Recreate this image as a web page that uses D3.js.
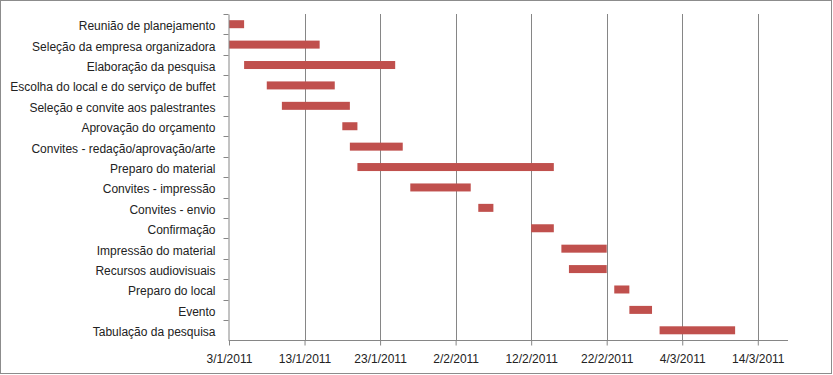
<!DOCTYPE html>
<html lang="pt">
	<head>
		<meta charset="utf-8">
		<title>Cronograma do evento</title>
		<script src="https://cdn.jsdelivr.net/npm/d3@7"></script>
		<style type="text/css">
			body { margin: 0; background: #fff; }
			svg { display: block; font-family: "Liberation Sans", Arial, sans-serif; }
			.axis text { fill: #222; font-size: 12px; }
			.axis path, .axis line { stroke: #868686; }
		</style>
	</head>
	<body>
		<script type="text/javascript">

			// Width and height
			var w = 833;
			var h = 375;

			// Tasks, start dates and durations (days)
			var tasks = ["Reunião de planejamento", "Seleção da empresa organizadora", "Elaboração da pesquisa",
				"Escolha do local e do serviço de buffet", "Seleção e convite aos palestrantes", "Aprovação do orçamento",
				"Convites - redação/aprovação/arte", "Preparo do material", "Convites - impressão", "Convites - envio",
				"Confirmação", "Impressão do material", "Recursos audiovisuais", "Preparo do local", "Evento",
				"Tabulação da pesquisa"];
			var starts = ["2011-01-03", "2011-01-03", "2011-01-05", "2011-01-08", "2011-01-10", "2011-01-18",
				"2011-01-19", "2011-01-20", "2011-01-27", "2011-02-05", "2011-02-12", "2011-02-16",
				"2011-02-17", "2011-02-23", "2011-02-25", "2011-03-01"];
			var durations = [2, 12, 20, 9, 9, 2, 7, 26, 8, 2, 3, 6, 5, 2, 3, 10];

			// Tick labels on the date axis
			var tickDates = ["2011-01-03", "2011-01-13", "2011-01-23", "2011-02-02", "2011-02-12",
				"2011-02-22", "2011-03-04", "2011-03-14"];
			var axisMin = "2011-01-03";
			var axisMax = "2011-03-18";

			var parse = d3.utcParse("%Y-%m-%d");
			var fmt = d3.utcFormat("%-d/%-m/%Y");

			var margin = { top: 14, right: 45, bottom: 35, left: 229 };

			var x = d3.scaleUtc()
				.domain([parse(axisMin), parse(axisMax)])
				.range([margin.left, 788]);

			var y = d3.scaleBand()
				.domain(tasks)
				.range([margin.top, 340.5]);

			var svg = d3.select("body")
				.append("svg")
				.attr("width", w)
				.attr("height", h);

			// outer frame
			svg.append("rect")
				.attr("x", 0.5).attr("y", 0.5)
				.attr("width", w - 2).attr("height", h - 2)
				.attr("fill", "#fff")
				.attr("stroke", "#8c8c8c");

			var ticks = tickDates.map(parse);

			// vertical gridlines
			svg.append("g")
				.selectAll("line")
				.data(ticks.slice(1))
				.enter()
				.append("line")
				.attr("x1", function(d) { return Math.round(x(d)) + 0.5; })
				.attr("x2", function(d) { return Math.round(x(d)) + 0.5; })
				.attr("y1", margin.top)
				.attr("y2", y.range()[1])
				.attr("stroke", "#868686");

			// bars
			var rows = tasks.map(function(t, i) {
				var s = parse(starts[i]);
				return { task: t, start: s, end: d3.utcDay.offset(s, durations[i]) };
			});

			svg.append("g")
				.selectAll("rect")
				.data(rows)
				.enter()
				.append("rect")
				.attr("x", function(d) { return x(d.start); })
				.attr("width", function(d) { return x(d.end) - x(d.start); })
				.attr("y", function(d) { return y(d.task) + y.bandwidth() / 2 - 4; })
				.attr("height", 8)
				.attr("fill", "#c0504d");

			// date axis
			svg.append("g")
				.attr("class", "axis")
				.attr("transform", "translate(0," + (Math.round(y.range()[1]) - 0.5) + ")")
				.call(d3.axisBottom(x).tickValues(ticks).tickFormat(fmt).tickSize(5).tickSizeOuter(0).tickPadding(9))
				.call(function(g) { g.select(".domain").attr("d", "M" + margin.left + ",0H788"); });

			// category axis, ticks between rows
			var yAxis = svg.append("g")
				.attr("class", "axis")
				.attr("transform", "translate(" + (margin.left - 0.5) + ",0)")
				.call(d3.axisLeft(y).tickSize(0).tickPadding(13));

			yAxis.selectAll(".tick text").attr("dy", "0.5em");

			yAxis.selectAll(".sep")
				.data(tasks)
				.enter()
				.append("line")
				.attr("class", "sep")
				.attr("x1", -5).attr("x2", 0)
				.attr("y1", function(d) { return Math.round(y(d)) + 0.5; })
				.attr("y2", function(d) { return Math.round(y(d)) + 0.5; });

		</script>
	</body>
</html>
